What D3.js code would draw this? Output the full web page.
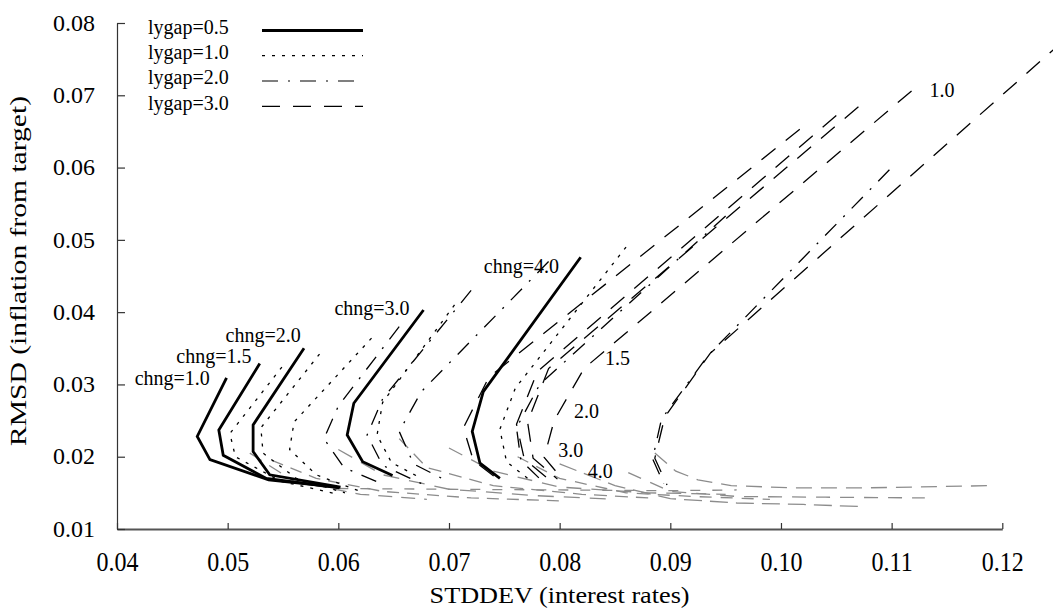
<!DOCTYPE html>
<html>
<head>
<meta charset="utf-8">
<script src="https://cdn.jsdelivr.net/npm/d3@7"></script>
<style>
  body { margin: 0; background: #fff; }
  svg { display: block; font-family: "Liberation Serif", "Times New Roman", serif; }
</style>
</head>
<body>
<svg id="chart" width="1053" height="612"></svg>
<script>
// ---- axis ticks ----
const xTicks = [0.04, 0.05, 0.06, 0.07, 0.08, 0.09, 0.10, 0.11, 0.12];
const yTicks = [0.01, 0.02, 0.03, 0.04, 0.05, 0.06, 0.07, 0.08];

// ---- rule parameters ----
const inflWeights = ["1.0", "1.5", "2.0", "3.0", "4.0"];   // points along each curve
const chngLevels  = ["1.0", "1.5", "2.0", "3.0", "4.0"];   // one curve per row
const lygapLevels = ["0.5", "1.0", "2.0", "3.0"];          // one style per level

// lygap = 0.5 : rows = chng, columns = inflation weight
const sdLygap05 = [
  [0.0499, 0.04725, 0.0484, 0.0537, 0.0599],
  [0.0529, 0.0492, 0.0496, 0.0535, 0.0601],
  [0.0569, 0.0523, 0.0523, 0.0538, 0.0602],
  [0.0677, 0.0614, 0.0608, 0.0622, 0.0649],
  [0.0819, 0.0731, 0.0721, 0.0728, 0.0746]
];
const rmsdLygap05 = [
  [0.0309, 0.0228, 0.0196, 0.0168, 0.0158],
  [0.0329, 0.0237, 0.0202, 0.0170, 0.0157],
  [0.0350, 0.0244, 0.0207, 0.0175, 0.0158],
  [0.0403, 0.0274, 0.0230, 0.0193, 0.0174],
  [0.0476, 0.0290, 0.0235, 0.0191, 0.0170]
];

// lygap = 1.0
const sdLygap10 = [
  [0.0549, 0.0502, 0.0507, 0.0548, 0.0600],
  [0.0583, 0.0530, 0.0532, 0.0562, 0.0606],
  [0.0630, 0.0560, 0.0556, 0.0580, 0.0620],
  [0.0705, 0.0640, 0.0635, 0.0648, 0.0675],
  [0.0860, 0.0760, 0.0746, 0.0752, 0.0772]
];
const rmsdLygap10 = [
  [0.0324, 0.0232, 0.0200, 0.0166, 0.0148],
  [0.0342, 0.0240, 0.0205, 0.0170, 0.0150],
  [0.0364, 0.0248, 0.0210, 0.0175, 0.0152],
  [0.0410, 0.0275, 0.0230, 0.0192, 0.0170],
  [0.0490, 0.0295, 0.0238, 0.0193, 0.0169]
];

// lygap = 2.0
const sdLygap20 = [
  [0.0655, 0.0600, 0.0587, 0.0605, 0.0640],
  [0.0720, 0.0640, 0.0626, 0.0640, 0.0675],
  [0.0790, 0.0675, 0.0655, 0.0668, 0.0700],
  [0.0950, 0.0782, 0.0761, 0.0765, 0.0783],
  [0.1098, 0.0934, 0.0892, 0.0884, 0.0894]
];
const rmsdLygap20 = [
  [0.0380, 0.0270, 0.0225, 0.0185, 0.0162],
  [0.0430, 0.0280, 0.0230, 0.0188, 0.0163],
  [0.0470, 0.0290, 0.0235, 0.0190, 0.0165],
  [0.0533, 0.0300, 0.0240, 0.0195, 0.0168],
  [0.0597, 0.0340, 0.0252, 0.0197, 0.0163]
];

// lygap = 3.0
const sdLygap30 = [
  [0.1017, 0.0736, 0.0713, 0.0722, 0.0745],
  [0.1050, 0.0780, 0.0761, 0.0768, 0.0790],
  [0.1070, 0.0790, 0.0771, 0.0776, 0.0798],
  [0.1118, 0.0822, 0.0795, 0.0786, 0.0802],
  [0.1255, 0.0936, 0.0895, 0.0886, 0.0897]
];
const rmsdLygap30 = [
  [0.0653, 0.0310, 0.0240, 0.0195, 0.0168],
  [0.0672, 0.0318, 0.0245, 0.0197, 0.0169],
  [0.0684, 0.0322, 0.0248, 0.0198, 0.0169],
  [0.0706, 0.0322, 0.0250, 0.0199, 0.0170],
  [0.0775, 0.0343, 0.0255, 0.0198, 0.0161]
];

// grey tails running along the bottom of the frontier
const sdGrey = [
  [0.0886, 0.0905, 0.0925, 0.0955, 0.1010, 0.1080, 0.1190],
  [0.0862, 0.0900, 0.0960, 0.1040, 0.1130],
  [0.0800, 0.0850, 0.0900, 0.0960, 0.1020, 0.1073],
  [0.0762, 0.0800, 0.0860, 0.0920, 0.0990],
  [0.0700, 0.0740, 0.0800, 0.0880, 0.0950],
  [0.0655, 0.0680, 0.0740, 0.0820, 0.0880],
  [0.0600, 0.0640, 0.0700, 0.0780, 0.0850],
  [0.0540, 0.0580, 0.0640, 0.0720, 0.0800],
  [0.0520, 0.0560, 0.0620, 0.0680],
  [0.0600, 0.0700, 0.0800, 0.0900, 0.0960]
];
const rmsdGrey = [
  [0.0205, 0.0180, 0.0168, 0.0160, 0.0157, 0.0157, 0.0160],
  [0.0178, 0.0152, 0.0145, 0.0144, 0.0143],
  [0.0190, 0.0160, 0.0142, 0.0136, 0.0134, 0.0131],
  [0.0200, 0.0170, 0.0150, 0.0145, 0.0141],
  [0.0212, 0.0180, 0.0158, 0.0150, 0.0148],
  [0.0225, 0.0185, 0.0160, 0.0148, 0.0143],
  [0.0210, 0.0175, 0.0155, 0.0146, 0.0141],
  [0.0195, 0.0170, 0.0152, 0.0143, 0.0139],
  [0.0205, 0.0166, 0.0148, 0.0141],
  [0.0156, 0.0155, 0.0154, 0.0153, 0.0154]
];

// ---- drawing ----
const svg = d3.select("#chart");
svg.append("rect").attr("width", 1053).attr("height", 612).attr("fill", "#fff");

const x = d3.scaleLinear().domain([0.04, 0.12]).range([117, 1002.3]);
const y = d3.scaleLinear().domain([0.01, 0.08]).range([529, 23]);

const styles = [
  { dash: null,           width: 2.8 },   // lygap 0.5
  { dash: "3,7",          width: 1.3 },   // lygap 1.0
  { dash: "16,10,2,10",   width: 1.3 },   // lygap 2.0
  { dash: "18,13",        width: 1.3 }    // lygap 3.0
];
const sdSets   = [sdLygap05, sdLygap10, sdLygap20, sdLygap30];
const rmsdSets = [rmsdLygap05, rmsdLygap10, rmsdLygap20, rmsdLygap30];

const line = d3.line().x(d => x(d[0])).y(d => y(d[1]));

// grey tails first so the black frontiers sit on top
const greyDash = ["16,9", "14,10", "18,8", "12,9", "15,10", "13,8", "16,10", "12,8", "14,9", "10,12"];
const gGrey = svg.append("g");
sdGrey.forEach((row, i) => {
  const pts = row.map((s, j) => [s, rmsdGrey[i][j]]);
  gGrey.append("path")
    .attr("d", line(pts))
    .attr("fill", "none")
    .attr("stroke", "#8c8c8c")
    .attr("stroke-width", 1.3)
    .attr("stroke-dasharray", greyDash[i]);
});

// frontier curves, thin styles first, solid last
const gCurves = svg.append("g");
[3, 2, 1, 0].forEach(li => {
  const st = styles[li];
  sdSets[li].forEach((row, ci) => {
    const pts = row.map((s, j) => [s, rmsdSets[li][ci][j]]);
    gCurves.append("path")
      .attr("d", line(pts))
      .attr("fill", "none")
      .attr("stroke", "#000")
      .attr("stroke-width", st.width)
      .attr("stroke-linejoin", "miter")
      .attr("stroke-dasharray", st.dash);
  });
});

// ---- axes ----
const serif = "'Liberation Serif', 'Times New Roman', serif";
const gx = svg.append("g").attr("transform", "translate(0,529)")
  .call(d3.axisBottom(x).tickValues(xTicks).tickFormat(d3.format(".2f"))
    .tickSizeInner(-6).tickSizeOuter(0).tickPadding(19.2));
gx.attr("font-family", serif);
gx.select(".domain").attr("stroke", "#555").attr("stroke-width", 1.8);
gx.selectAll(".tick line").attr("stroke", "#333").attr("stroke-width", 1.2);
gx.selectAll(".tick text")
  .attr("font-family", serif)
  .attr("font-size", 24).attr("fill", "#000")
  .attr("transform", "scale(1,1.15)");

const gy = svg.append("g").attr("transform", "translate(117,0)")
  .call(d3.axisLeft(y).tickValues(yTicks).tickFormat(d3.format(".2f"))
    .tickSizeInner(-8).tickSizeOuter(0).tickPadding(22));
gy.attr("font-family", serif);
gy.select(".domain").attr("stroke", "#333").attr("stroke-width", 1.2);
gy.selectAll(".tick line").attr("stroke", "#333").attr("stroke-width", 1.2);
gy.selectAll(".tick text")
  .attr("font-family", serif)
  .attr("font-size", 24).attr("fill", "#000")
  .attr("transform", "scale(1,0.93)");

// axis titles
svg.append("text")
  .attr("x", 559.6).attr("y", 603)
  .attr("text-anchor", "middle")
  .attr("font-family", serif)
  .attr("font-size", 24)
  .attr("textLength", 260).attr("lengthAdjust", "spacingAndGlyphs")
  .text("STDDEV (interest rates)");

svg.append("text")
  .attr("transform", "translate(26,271) rotate(-90)")
  .attr("text-anchor", "middle")
  .attr("font-family", serif)
  .attr("font-size", 24)
  .attr("textLength", 350).attr("lengthAdjust", "spacingAndGlyphs")
  .text("RMSD (inflation from target)");

// ---- legend ----
const legendBase = [33.7, 59, 84.3, 109.7];
const gLeg = svg.append("g").attr("font-family", serif);
lygapLevels.forEach((lv, i) => {
  gLeg.append("text")
    .attr("x", 148).attr("y", legendBase[i])
    .attr("font-size", 20)
    .text("lygap=" + lv);
  gLeg.append("line")
    .attr("x1", 262).attr("x2", 363)
    .attr("y1", legendBase[i] - 3.3).attr("y2", legendBase[i] - 3.3)
    .attr("stroke", "#000")
    .attr("stroke-width", i === 0 ? 3 : 1.2)
    .attr("stroke-dasharray", styles[i].dash);
});

// ---- curve labels ----
const chngOffsets = [[-16.7, 7], [-8.3, 0], [-3.3, -6.6], [-14, 5], [-21.7, 16]];
chngLevels.forEach((c, ci) => {
  const px = x(sdLygap05[ci][0]) + chngOffsets[ci][0];
  const py = y(rmsdLygap05[ci][0]) + chngOffsets[ci][1];
  svg.append("text")
    .attr("x", px).attr("y", py)
    .attr("text-anchor", "end")
    .attr("font-family", serif)
    .attr("font-size", 20)
    .text("chng=" + c);
});

// inflation-weight labels along the lygap=3.0, chng=3.0 curve
const weightOffsets = [[18, 6], [21, -4], [20, -3], [14, 0], [26, 0]];
inflWeights.forEach((w, j) => {
  svg.append("text")
    .attr("x", x(sdLygap30[3][j]) + weightOffsets[j][0])
    .attr("y", y(rmsdLygap30[3][j]) + weightOffsets[j][1])
    .attr("font-family", serif)
    .attr("font-size", 20)
    .text(w);
});
</script>
</body>
</html>
